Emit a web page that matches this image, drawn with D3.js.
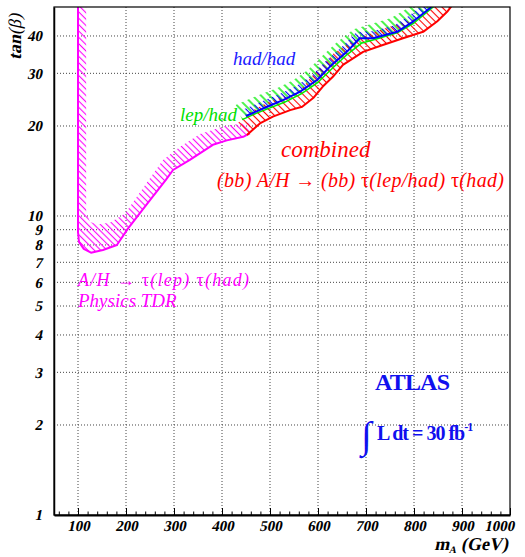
<!DOCTYPE html>
<html>
<head>
<meta charset="utf-8">
<script src="https://cdn.jsdelivr.net/npm/d3@7"></script>
<style>
    body { margin: 0; background: #fff; }
    text { font-family: 'Liberation Serif', 'Times New Roman', serif; }
</style>
</head>
<body>
<div id="chart"></div>
<script>
// Axis ticks
const xTicks = [100, 200, 300, 400, 500, 600, 700, 800, 900, 1000]
const xMinorTicks = d3.range(60, 1000, 20).filter((d) => d % 100 !== 0)
const yTicks = [1, 2, 3, 4, 5, 6, 7, 8, 9, 10, 20, 30, 40]
const xGrid = [100, 200, 300, 400, 500, 600, 700, 800, 900]
const yGrid = [2, 3, 4, 5, 6, 7, 8, 9, 10, 20, 30, 40]

// Physics TDR contour A/H -> tau(lep) tau(had), [mA, tanb]
const tdrContour = [
    [100, 55], [100, 8.84], [102, 8.19], [112, 7.76], [127, 7.54],
    [152, 7.7], [181, 8.0], [204, 9.07], [250, 11.3], [283, 13.2],
    [298, 14.25], [333, 15.4], [381, 17.3], [410, 17.9], [444, 18.4],
    [458, 18.9],
]
// inner edge of the hatched TDR band
const tdrEdge = [
    [117, 55], [117, 10.3], [125, 9.55], [142, 9.37], [167, 9.51],
    [198, 10.2], [240, 12.7], [277, 15.4], [312, 17.0], [354, 18.8],
    [406, 20.0], [458, 20.6],
]

// (bb) A/H contours
const combined = [
    [452, 18.66], [479, 20.4], [506, 21.5], [542, 22.6], [567, 23.2],
    [590, 24.8], [610, 27.1], [631, 29.2], [652, 32.0], [694, 35.4],
    [735, 37.3], [777, 39.3], [819, 41.3], [848, 44.7], [869, 48.2],
    [885, 52],
]
const hadHad = [
    [450, 21.6], [494, 23.2], [527, 24.4], [562, 26.0], [598, 28.5],
    [625, 31.6], [660, 35.4], [687, 39.3], [715, 39.3], [765, 41.3],
    [798, 44.7], [833, 49.5], [845, 52],
]
const lepHad = [
    [442, 21.0], [470, 22.0], [500, 23.0], [530, 24.0], [565, 25.6],
    [600, 28.0], [630, 31.2], [660, 34.6], [690, 37.8], [720, 39.0],
    [765, 41.0], [800, 44.2], [840, 50], [850, 52],
]

const config = {
    w: 525,
    h: 557,
    margin: { top: 7, right: 15, bottom: 42, left: 54 },
    font: "'Liberation Serif', 'Times New Roman', serif",
    slant: 'skewX(-12)', // bold italic is faked from the bold face
}

const svg = d3
    .select('#chart')
    .append('svg')
    .attr('width', config.w)
    .attr('height', config.h)

const x = d3
    .scaleLinear()
    .domain([50, 1000])
    .range([config.margin.left, config.w - config.margin.right])

const y = d3
    .scaleLog()
    .domain([1, 50])
    .range([config.h - config.margin.bottom, config.margin.top])

const defs = svg.append('defs')

defs.append('clipPath')
    .attr('id', 'plot-area')
    .append('rect')
    .attr('x', x.range()[0])
    .attr('y', y.range()[1])
    .attr('width', x.range()[1] - x.range()[0])
    .attr('height', y.range()[0] - y.range()[1])

// "\" hatch patterns
function hatch(id, color, gap, width) {
    const p = defs
        .append('pattern')
        .attr('id', id)
        .attr('patternUnits', 'userSpaceOnUse')
        .attr('width', gap)
        .attr('height', gap)
        .attr('patternTransform', 'rotate(-45)')
    p.append('line')
        .attr('x1', gap / 2)
        .attr('x2', gap / 2)
        .attr('y1', 0)
        .attr('y2', gap)
        .attr('stroke', color)
        .attr('stroke-width', width)
}
hatch('hatch-tdr', '#ff00ff', 4.5, 1.1)
hatch('hatch-red', '#ff0000', 5, 1.1)
hatch('hatch-blue', '#0000ff', 4.5, 1.1)
hatch('hatch-green', '#00ee00', 6, 1.4)

// Grid
const grid = svg.append('g')
    .attr('stroke', '#444')
    .attr('stroke-width', 1)
    .attr('stroke-dasharray', '1,2')

grid.selectAll('.vgrid')
    .data(xGrid)
    .join('line')
    .attr('x1', (d) => x(d))
    .attr('x2', (d) => x(d))
    .attr('y1', y.range()[0])
    .attr('y2', y.range()[1])

grid.selectAll('.hgrid')
    .data(yGrid)
    .join('line')
    .attr('x1', x.range()[0])
    .attr('x2', x.range()[1])
    .attr('y1', (d) => y(d))
    .attr('y2', (d) => y(d))

// Contours
const toScreen = (pts) => pts.map(([m, t]) => [x(m), y(t)])

// side band of a contour, offset to the left of its direction
function band(pts, width) {
    const s = toScreen(pts)
    const off = s.map((p, i) => {
        const a = s[Math.max(i - 1, 0)]
        const b = s[Math.min(i + 1, s.length - 1)]
        const dx = b[0] - a[0]
        const dy = b[1] - a[1]
        const len = Math.hypot(dx, dy)
        return [p[0] + (dy / len) * width, p[1] - (dx / len) * width]
    })
    return s.concat(off.reverse())
}

const line = d3.line()
const plot = svg.append('g').attr('clip-path', 'url(#plot-area)')

plot.append('path')
    .attr('d', line(toScreen(tdrContour).concat(toScreen(tdrEdge).reverse())) + 'Z')
    .attr('fill', 'url(#hatch-tdr)')

plot.append('path')
    .attr('d', line(band(lepHad, 16)) + 'Z')
    .attr('fill', 'url(#hatch-green)')

plot.append('path')
    .attr('d', line(band(combined, 15)) + 'Z')
    .attr('fill', 'url(#hatch-red)')

plot.append('path')
    .attr('d', line(band(hadHad, 7)) + 'Z')
    .attr('fill', 'url(#hatch-blue)')

const curves = [
    { data: tdrContour, color: '#ff00ff', width: 2 },
    { data: lepHad, color: '#00ee00', width: 1.5 },
    { data: combined, color: '#ff0000', width: 2 },
    { data: hadHad, color: '#0000ff', width: 2 },
]

plot.selectAll('.curve')
    .data(curves)
    .join('path')
    .attr('d', (d) => line(toScreen(d.data)))
    .attr('fill', 'none')
    .attr('stroke', (d) => d.color)
    .attr('stroke-width', (d) => d.width)
    .attr('stroke-linejoin', 'round')

// Axes
const xAxis = svg.append('g')
    .attr('transform', `translate(0, ${y.range()[0]})`)
    .call(
        d3.axisBottom(x)
            .tickValues(xTicks)
            .tickSize(-7)
            .tickSizeOuter(0)
            .tickPadding(5)
            .tickFormat(d3.format('d'))
    )
xAxis.select('.domain').attr('stroke-width', 2)
xAxis.selectAll('.tick text').attr('x', 3.4)
// last label is pulled inside the frame
xAxis.selectAll('.tick text')
    .filter((d) => d === 1000)
    .attr('text-anchor', 'end')
    .attr('x', 7)

svg.append('g')
    .attr('transform', `translate(0, ${y.range()[0]})`)
    .call(
        d3.axisBottom(x)
            .tickValues(xMinorTicks)
            .tickSize(-3.5)
            .tickSizeOuter(0)
            .tickFormat('')
    )
    .select('.domain')
    .remove()

const yAxis = svg.append('g')
    .attr('transform', `translate(${x.range()[0]}, 0)`)
    .call(
        d3.axisLeft(y)
            .tickValues(yTicks)
            .tickSize(0)
            .tickSizeOuter(0)
            .tickPadding(11)
            .tickFormat(d3.format('d'))
    )
yAxis.select('.domain').attr('stroke-width', 1.5)

svg.selectAll('.tick text')
    .attr('font-family', config.font)
    .attr('font-size', 15)
    .attr('font-weight', 'bold')
    .attr('transform', config.slant)
    .attr('fill', '#000')

// frame
svg.append('rect')
    .attr('x', x.range()[0])
    .attr('y', y.range()[1])
    .attr('width', x.range()[1] - x.range()[0])
    .attr('height', y.range()[0] - y.range()[1])
    .attr('fill', 'none')
    .attr('stroke', '#000')
    .attr('stroke-width', 1.2)

// Axis titles
const xTitle = svg.append('g')
    .attr('transform', `translate(508, 550) ${config.slant}`)
    .append('text')
    .attr('text-anchor', 'end')
    .attr('font-size', 18)
    .attr('font-weight', 'bold')
xTitle.append('tspan').text('m')
xTitle.append('tspan').attr('font-size', 10).attr('dy', 3).text('A')
xTitle.append('tspan').attr('dy', -3).text(' (GeV)')

const yTitle = svg.append('text')
    .attr('transform', `translate(21, 60) rotate(-90) ${config.slant}`)
    .attr('font-size', 18)
    .attr('font-weight', 'bold')
yTitle.append('tspan').text('tan')
yTitle.append('tspan').attr('font-weight', 'normal').text('(β)')

// Labels
function label(xp, yp, size, color, parts, len) {
    const t = svg.append('text')
        .attr('x', xp)
        .attr('y', yp)
        .attr('font-size', size)
        .attr('font-style', 'italic')
        .attr('fill', color)
    if (len) t.attr('textLength', len).attr('lengthAdjust', 'spacing')
    parts.forEach((p) => {
        const s = t.append('tspan').text(p.t)
        if (p.up) s.attr('font-style', 'normal')
    })
    return t
}

label(233, 65, 19, '#1a1aff', [{ t: 'had/had' }])
label(180, 121, 19, '#00e000', [{ t: 'lep/had' }])
label(281, 157, 23, '#ff0000', [{ t: 'combined' }])
label(217, 187, 20, '#ff0000', [
    { t: '(bb) A/H ' },
    { t: '→', up: true },
    { t: ' (bb) ' },
    { t: 'τ', up: true },
    { t: '(lep/had) ' },
    { t: 'τ', up: true },
    { t: '(had)' },
], 287)
label(78, 286, 18, '#ff00ff', [
    { t: 'A/H ' },
    { t: '→', up: true },
    { t: ' ' },
    { t: 'τ', up: true },
    { t: '(lep) ' },
    { t: 'τ', up: true },
    { t: '(had)' },
], 171)
label(78, 307, 19, '#ff00ff', [{ t: 'Physics TDR' }])

// ATLAS
svg.append('text')
    .attr('x', 375)
    .attr('y', 390)
    .attr('font-size', 24)
    .attr('font-weight', 'bold')
    .attr('fill', '#1010ee')
    .attr('textLength', 75)
    .text('ATLAS')

svg.append('text')
    .attr('x', 361)
    .attr('y', 448)
    .attr('font-size', 38)
    .attr('fill', '#1010ee')
    .text('∫')

const lumi = svg.append('text')
    .attr('x', 377)
    .attr('y', 440)
    .attr('font-size', 20)
    .attr('font-weight', 'bold')
    .attr('letter-spacing', -1)
    .attr('fill', '#1010ee')
lumi.append('tspan').text('L dt = 30 fb')
lumi.append('tspan').attr('font-size', 12).attr('dy', -9).text('-1')
</script>
</body>
</html>
